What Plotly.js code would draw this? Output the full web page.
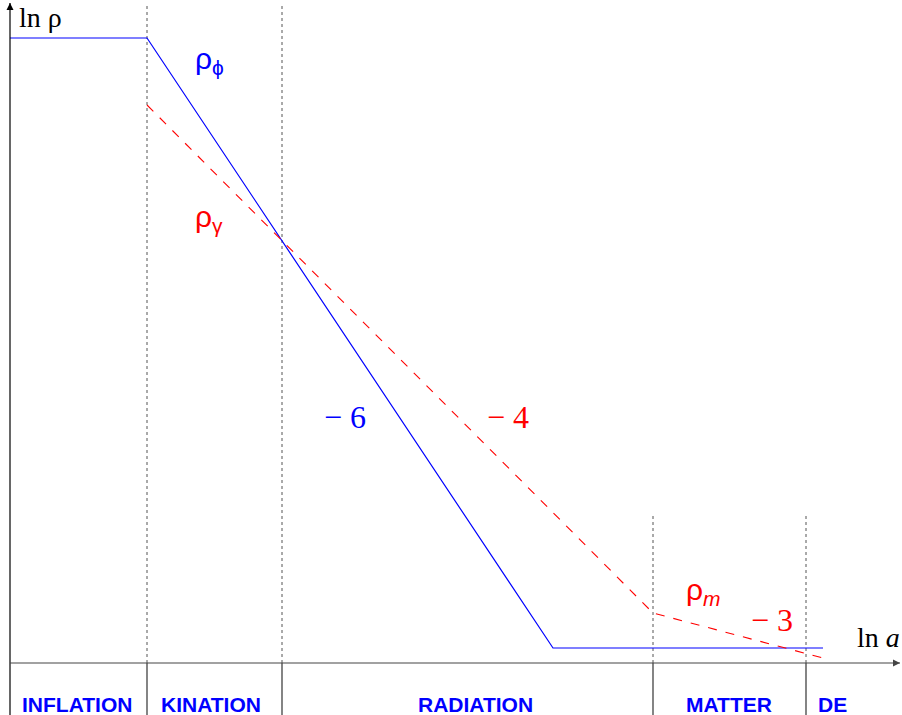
<!DOCTYPE html>
<html><head><meta charset="utf-8">
<script src="https://cdn.plot.ly/plotly-3.0.1.min.js"></script>
<style>body{margin:0;background:#fff}#c{width:902px;height:715px}</style>
</head><body><div id="c"></div>
<script>
// ln a (arbitrary units) at era boundaries
const eraNames = ['INFLATION','KINATION','RADIATION','MATTER','DE'];
const eraLabelX = [6.7, 20.1, 46.5, 71.9, 82.2];
const boundaries = [13.7, 27.2, 64.3, 79.6];
const boundaryTop = [65.8, 65.8, 15.0, 15.0];
// rho_phi (blue)
const phiX = [0, 13.7, 54.3, 81.3];
const phiY = [62.5, 62.5, 1.5, 1.5];
// rho_gamma / rho_m (red dashed)
const radX = [13.7, 64.3, 81.3];
const radY = [55.8, 5.0, 0.5];
// axis extents
const xAxisEnd = 89.0;
const yAxisTop = 66.0;

const traces = [];
boundaries.forEach((b,i)=>{
  traces.push({x:[b,b],y:[0,boundaryTop[i]],mode:'lines',line:{color:'#555',width:1,dash:'dot'},hoverinfo:'skip'});
  traces.push({x:[b,b],y:[0,-6],mode:'lines',line:{color:'#333',width:1.2},hoverinfo:'skip'});
});
traces.push({x:phiX,y:phiY,mode:'lines',line:{color:'#0000ff',width:1.2},hoverinfo:'skip'});
traces.push({x:radX,y:radY,mode:'lines',line:{color:'#ff0000',width:1.1,dash:'dash'},hoverinfo:'skip'});
// axes
traces.push({x:[0,0],y:[-6,yAxisTop],mode:'lines',line:{color:'#000',width:1.2},hoverinfo:'skip'});
traces.push({x:[0,xAxisEnd],y:[0,0],mode:'lines',line:{color:'#444',width:1.2},hoverinfo:'skip'});
traces.push({x:[0],y:[yAxisTop],mode:'markers',marker:{symbol:'arrow-up',size:7,color:'#000'},hoverinfo:'skip'});
traces.push({x:[xAxisEnd],y:[0],mode:'markers',marker:{symbol:'arrow-right',size:7,color:'#444'},hoverinfo:'skip'});

const serif = 'Liberation Serif, Times New Roman, serif';
const sans = 'Liberation Sans, Arial, sans-serif';
const ann = [
  {x:3.0,y:64.6,text:'ln ρ',font:{family:serif,size:28,color:'#000'}},
  {x:19.9,y:60.3,text:'ρ<sub>ϕ</sub>',font:{family:sans,size:30,color:'#0000ff'}},
  {x:19.9,y:44.5,text:'ρ<sub>γ</sub>',font:{family:sans,size:30,color:'#ff0000'}},
  {x:33.5,y:24.6,text:'− 6',font:{family:serif,size:32,color:'#0000ff'}},
  {x:49.8,y:24.6,text:'− 4',font:{family:serif,size:32,color:'#ff0000'}},
  {x:69.3,y:7.2,text:'ρ<sub><i>m</i></sub>',font:{family:sans,size:30,color:'#ff0000'}},
  {x:76.2,y:4.3,text:'− 3',font:{family:serif,size:32,color:'#ff0000'}},
  {x:86.8,y:2.6,text:'ln <i>a</i>',font:{family:serif,size:28,color:'#000'}}
];
eraNames.forEach((n,i)=>ann.push({x:eraLabelX[i],y:-4.1,text:'<b>'+n+'</b>',
  font:{family:'Liberation Sans Narrow, Arial Narrow, Liberation Sans, sans-serif',size:21,color:'#0000ff'}}));
ann.forEach(a=>{a.showarrow=false;a.xref='x';a.yref='y';});

const layout = {
  width:902,height:715,margin:{l:0,r:0,t:0,b:0},
  paper_bgcolor:'#fff',plot_bgcolor:'#fff',showlegend:false,
  xaxis:{range:[-1,89.2],visible:false,fixedrange:true},
  yaxis:{range:[-5.2,66.3],visible:false,fixedrange:true},
  annotations:ann
};
Plotly.newPlot('c',traces,layout,{staticPlot:true});
</script></body></html>
